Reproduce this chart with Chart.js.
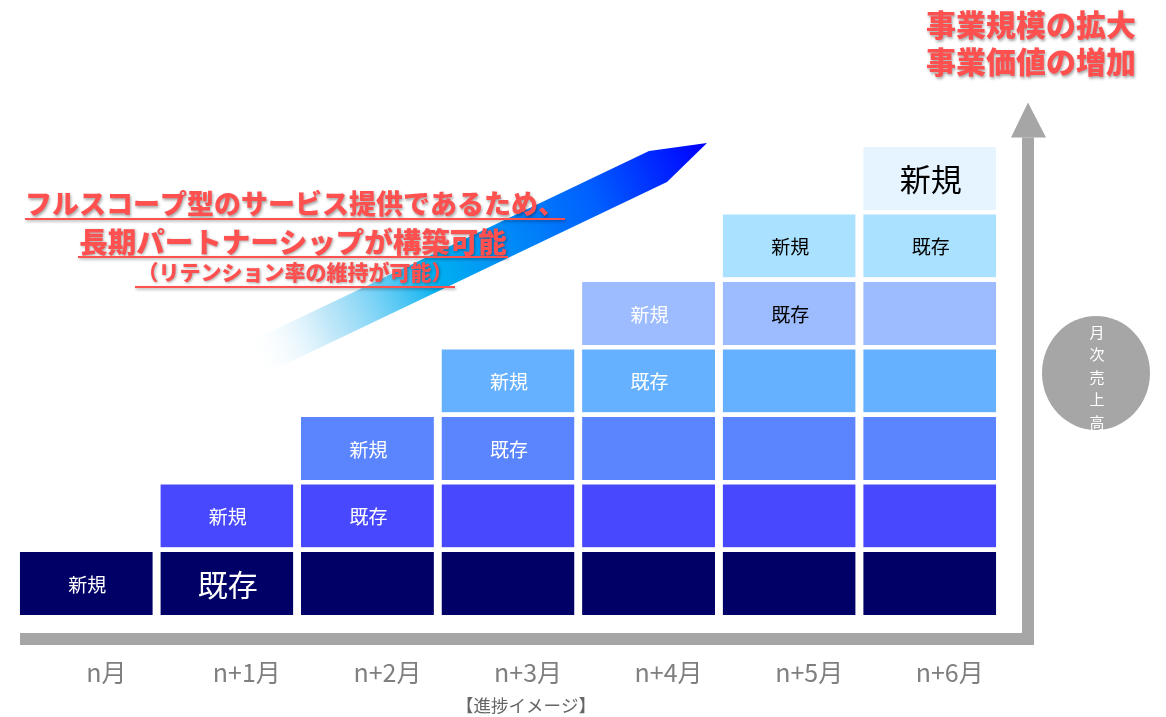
<!DOCTYPE html>
<html>
<head>
    <meta charset="utf-8" />
    <title>進捗イメージ</title>
    <style>
        body {
            margin: 0;
            background: #fff;
        }
        #wrap {
            position: relative;
            width: 1166px;
            height: 717px;
        }
    </style>
</head>
<body>
    <div id="wrap">
        <canvas id="chartCanvas"></canvas>
    </div>

<script src="https://cdn.jsdelivr.net/npm/chart.js@4.4.1/dist/chart.umd.min.js"></script>
<script>
    // months on the x axis
    var months = ['n月', 'n+1月', 'n+2月', 'n+3月', 'n+4月', 'n+5月', 'n+6月'];

    // one block per month and tier (stacked, bottom tier first)
    var tier0 = [1, 1, 1, 1, 1, 1, 1];
    var tier1 = [null, 1, 1, 1, 1, 1, 1];
    var tier2 = [null, null, 1, 1, 1, 1, 1];
    var tier3 = [null, null, null, 1, 1, 1, 1];
    var tier4 = [null, null, null, null, 1, 1, 1];
    var tier5 = [null, null, null, null, null, 1, 1];
    var tier6 = [null, null, null, null, null, null, 1];

    // text written inside the blocks
    var tier0Text = ['新規', '既存', '', '', '', '', ''];
    var tier1Text = ['', '新規', '既存', '', '', '', ''];
    var tier2Text = ['', '', '新規', '既存', '', '', ''];
    var tier3Text = ['', '', '', '新規', '既存', '', ''];
    var tier4Text = ['', '', '', '', '新規', '既存', ''];
    var tier5Text = ['', '', '', '', '', '新規', '既存'];
    var tier6Text = ['', '', '', '', '', '', '新規'];

    var tiers = [tier0, tier1, tier2, tier3, tier4, tier5, tier6];
    var tierTexts = [tier0Text, tier1Text, tier2Text, tier3Text, tier4Text, tier5Text, tier6Text];

    // styles
    var tierColors = ['#000066', '#4848FF', '#5B84FF', '#66B1FF', '#9CBCFF', '#AAE1FF', '#E6F4FF'];
    var tierInk = ['#FFFFFF', '#FFFFFF', '#FFFFFF', '#FFFFFF', '#FFFFFF', '#000000', '#000000'];
    var inkOverride = { '4-5': '#000000' };
    var bigText = { '0-1': 30, '6-6': 31 };
    var GAP = 4.5;
    var JP = "'Noto Sans CJK JP', 'Noto Sans', sans-serif";
    var RED = '#FF5050';
    var GRAY = '#A6A6A6';

    var datasets = tiers.map(function (t, i) {
        return {
            label: 'tier' + i,
            data: t,
            backgroundColor: tierColors[i],
            borderColor: '#FFFFFF',
            borderWidth: { top: GAP, left: 0, right: 0, bottom: 0 },
            borderSkipped: false,
            inflateAmount: 0
        };
    });

    function redLine(ctx, text, x, y, size, ulFrom, ulTo, ulY) {
        ctx.save();
        ctx.font = '900 ' + size + 'px ' + JP;
        ctx.textAlign = 'center';
        ctx.textBaseline = 'middle';
        ctx.shadowColor = 'rgba(0,0,0,0.35)';
        ctx.shadowBlur = 3;
        ctx.shadowOffsetX = 1;
        ctx.shadowOffsetY = 1.5;
        ctx.fillStyle = RED;
        ctx.fillText(text, x, y);
        ctx.fillRect(ulFrom, ulY, ulTo - ulFrom, 2);
        ctx.restore();
    }

    var decor = {
        id: 'decor',
        beforeDatasetsDraw: function (chart) {
            var ctx = chart.ctx;
            var a = chart.chartArea;
            ctx.save();

            // gray L axis with arrow
            var axY = a.bottom + 18;
            var vx = a.right + 22;
            ctx.fillStyle = GRAY;
            ctx.fillRect(a.left + 4, axY, vx + 12 - (a.left + 4), 12);
            ctx.fillRect(vx, a.top - 5, 12, axY + 12 - (a.top - 5));
            ctx.beginPath();
            ctx.moveTo(vx - 11, a.top - 5);
            ctx.lineTo(vx + 24, a.top - 5);
            ctx.lineTo(vx + 6, a.top - 40);
            ctx.closePath();
            ctx.fill();

            // ellipse with vertical label
            ctx.beginPath();
            ctx.ellipse(1096, 373, 54, 57, 0, 0, Math.PI * 2);
            ctx.fill();
            ctx.fillStyle = '#FFFFFF';
            ctx.font = '15px ' + JP;
            ctx.textAlign = 'center';
            ctx.textBaseline = 'middle';
            var v = ['月', '次', '売', '上', '高'];
            v.forEach(function (c, k) {
                ctx.fillText(c, 1097, 332 + k * 22.5);
            });

            // gradient band
            var g = ctx.createLinearGradient(252, 360, 705, 145);
            g.addColorStop(0, 'rgba(255,255,255,0)');
            g.addColorStop(0.17, 'rgba(150,215,245,0.6)');
            g.addColorStop(0.4, '#00B0F0');
            g.addColorStop(0.75, '#0060FF');
            g.addColorStop(1, '#0000FF');
            ctx.fillStyle = g;
            ctx.beginPath();
            ctx.moveTo(247, 343);
            ctx.lineTo(649, 151);
            ctx.lineTo(707, 143);
            ctx.lineTo(667, 182);
            ctx.lineTo(267, 373);
            ctx.closePath();
            ctx.fill();
            ctx.restore();
        },
        afterDatasetsDraw: function (chart) {
            var ctx = chart.ctx;
            ctx.save();
            ctx.textAlign = 'center';
            ctx.textBaseline = 'middle';
            chart.data.datasets.forEach(function (ds, i) {
                var meta = chart.getDatasetMeta(i);
                meta.data.forEach(function (bar, j) {
                    var t = tierTexts[i][j];
                    if (!t) return;
                    var p = bar.getProps(['x', 'y', 'base'], true);
                    var key = i + '-' + j;
                    var size = bigText[key] || 19;
                    ctx.font = size + 'px ' + JP;
                    ctx.fillStyle = inkOverride[key] || tierInk[i];
                    ctx.fillText(t, p.x + 1, (p.y + GAP + p.base) / 2 + 1);
                });
            });
            ctx.restore();

            // red notes
            redLine(ctx, 'フルスコープ型のサービス提供であるため、', 295, 204, 27, 25, 565, 218);
            redLine(ctx, '長期パートナーシップが構築可能', 293, 242, 28.5, 78, 508, 256);
            redLine(ctx, '（リテンション率の維持が可能）', 295, 272, 21, 135, 455, 286);

            ctx.save();
            ctx.font = '900 30px ' + JP;
            ctx.textAlign = 'right';
            ctx.textBaseline = 'middle';
            ctx.shadowColor = 'rgba(0,0,0,0.35)';
            ctx.shadowBlur = 3;
            ctx.shadowOffsetX = 1;
            ctx.shadowOffsetY = 1.5;
            ctx.fillStyle = RED;
            ctx.fillText('事業規模の拡大', 1136, 25);
            ctx.fillText('事業価値の増加', 1136, 62);
            ctx.restore();

            ctx.save();
            ctx.font = '17.5px ' + JP;
            ctx.fillStyle = '#666666';
            ctx.textAlign = 'center';
            ctx.textBaseline = 'middle';
            ctx.fillText('【進捗イメージ】', 526, 705);
            ctx.restore();
        }
    };

    var chart1 = new Chart(document.getElementById('chartCanvas'), {
        type: 'bar',
        data: { labels: months, datasets: datasets },
        plugins: [decor],
        options: {
            responsive: true,
            maintainAspectRatio: false,
            animation: false,
            layout: { padding: { left: 16, right: 166, top: 142.5, bottom: 2 } },
            datasets: {
                bar: { barPercentage: 1, categoryPercentage: 0.946 }
            },
            scales: {
                x: {
                    stacked: true,
                    grid: { display: false, drawTicks: false },
                    border: { display: false },
                    ticks: {
                        color: '#7F7F7F',
                        font: { family: JP, size: 25 },
                        padding: 42,
                        labelOffset: 20,
                        maxRotation: 0,
                        autoSkip: false
                    },
                    afterFit: function (scale) { scale.height = 100; }
                },
                y: {
                    stacked: true,
                    display: false,
                    min: 0,
                    max: 7
                }
            },
            plugins: {
                legend: { display: false },
                tooltip: { enabled: false }
            }
        }
    });
</script>
</body>
</html>
